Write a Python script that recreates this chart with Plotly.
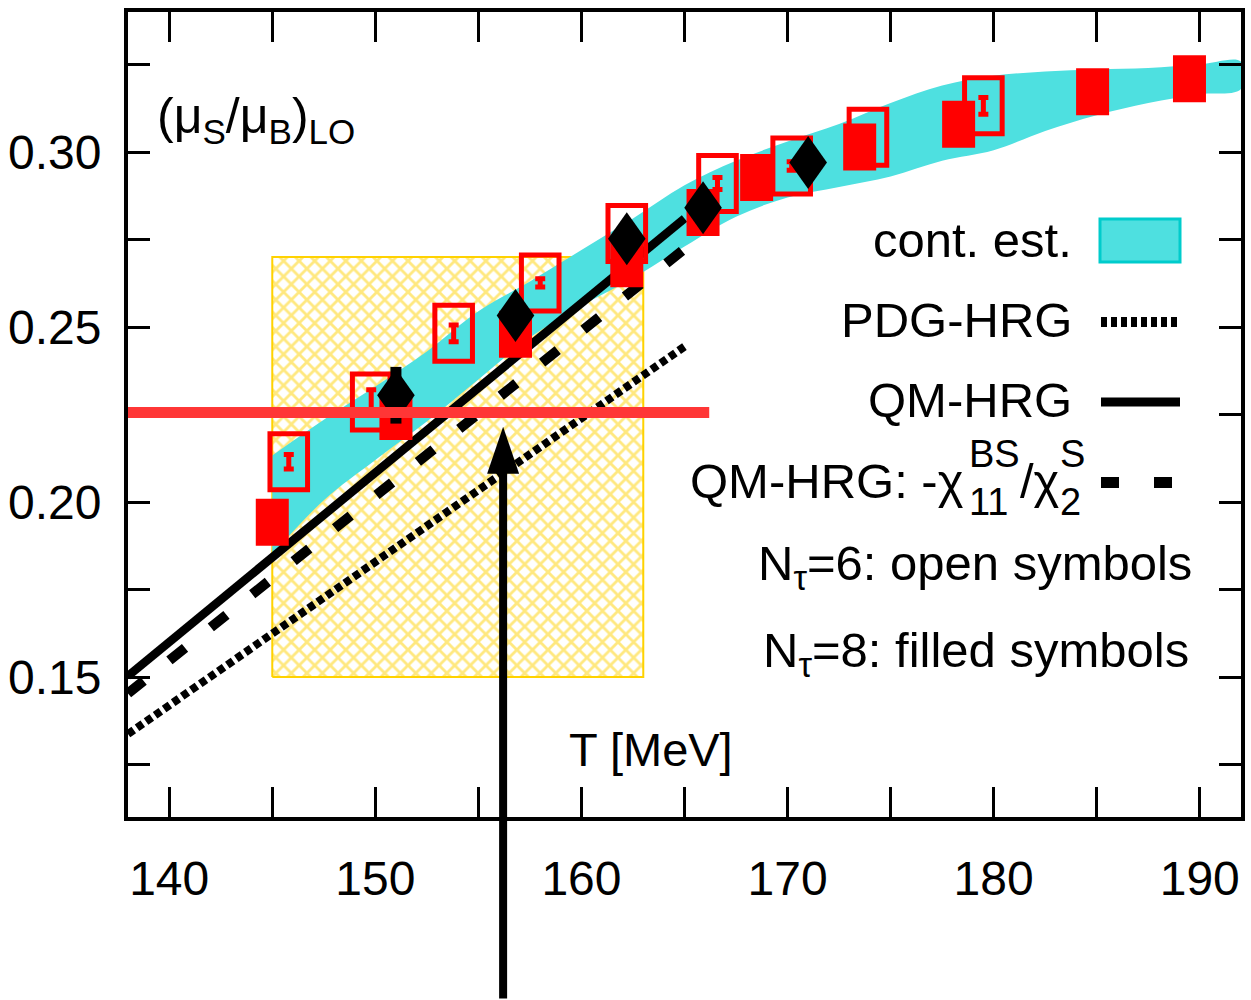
import plotly.graph_objects as go

# ---------------- data ----------------
T_RANGE = [138, 192]
Y_RANGE = [0.11, 0.34]

# continuum estimate band (upper / lower edge)
band_T = [145, 147.5, 150, 152.5, 155, 157.5, 160, 162.5, 165, 167.5,
          170, 172.5, 175, 177.5, 180, 182.5, 185, 187.5, 190, 192]
band_hi = [0.2133, 0.2235, 0.2330, 0.2430, 0.2545, 0.2630, 0.2720, 0.2810, 0.2905, 0.2975,
           0.3030, 0.3080, 0.3140, 0.3190, 0.3218, 0.3230, 0.3236, 0.3240, 0.3250, 0.3258]
band_lo = [0.1850, 0.2005, 0.2120, 0.2230, 0.2350, 0.2470, 0.2560, 0.2640, 0.2730, 0.2815,
           0.2870, 0.2900, 0.2930, 0.2975, 0.3005, 0.3060, 0.3105, 0.3140, 0.3165, 0.3180]

# hadron resonance gas curves
hrg_T = [138, 145, 150, 155, 160, 165]
pdg_hrg = [0.1337, 0.1624, 0.1829, 0.2034, 0.2239, 0.2444]
qm_hrg = [0.1503, 0.1842, 0.2084, 0.2326, 0.2568, 0.2810]
qm_hrg_chi = [0.1453, 0.1782, 0.2017, 0.2253, 0.2488, 0.2723]

# N_tau = 8, filled squares
nt8_T = [145.0, 151.0, 156.8, 162.2, 165.9, 168.5, 173.5, 178.3, 184.8, 189.5]
nt8_val = [0.1942, 0.2244, 0.2479, 0.2681, 0.2827, 0.2927, 0.3014, 0.3079, 0.3172, 0.3209]

# N_tau = 6, open squares
nt6_T = [145.8, 149.8, 153.8, 158.0, 162.2, 166.6, 170.2, 173.9, 179.5]
nt6_val = [0.2115, 0.2286, 0.2482, 0.2626, 0.2767, 0.2910, 0.2960, 0.3042, 0.3132]
nt6_err = [0.0021, 0.0035, 0.0024, 0.0012, 0.0015, 0.0017, 0.0012, 0.0015, 0.0024]

# N_tau = 8, filled diamonds
dia_T = [151.0, 156.8, 162.2, 165.9, 171.0]
dia_val = [0.2305, 0.2533, 0.2752, 0.2841, 0.2970]
dia_err = [0.0081, 0.0040, 0.0040, 0.0030, 0.0030]

# freeze-out box, reference line and arrow
BOX_T = [145, 163]
BOX_Y = [0.15, 0.27]
REF_VALUE = 0.2256
REF_T = [138, 166.2]
ARROW_T = 156.2
ARROW_TIP = 0.2215

# ---------------- styling ----------------
FONT = "Liberation Sans, Arial, sans-serif"
FS = 49        # key text
SFS = 38       # stacked indices in the key
TICK_FS = 48
RED = "#ff0000"
CYAN = "#4ee0e0"
GOLD = "#ffd200"

# plot-area pixel frame (used for placing the hand-made key)
L, R, TOP, BOT = 128, 1241, 12, 817


def px_x(px):
    return (px - L) / (R - L)


def px_y(py):
    return (BOT - py) / (BOT - TOP)


fig = go.Figure()

# hatched box
fig.add_trace(go.Scatter(
    x=[BOX_T[0], BOX_T[1], BOX_T[1], BOX_T[0], BOX_T[0]],
    y=[BOX_Y[0], BOX_Y[0], BOX_Y[1], BOX_Y[1], BOX_Y[0]],
    mode="lines", fill="toself",
    fillcolor="white",
    fillpattern=dict(shape="x", fgcolor=GOLD, bgcolor="white", size=11, solidity=0.45),
    line=dict(color=GOLD, width=2),
    hoverinfo="skip", showlegend=False))

# continuum estimate band
fig.add_trace(go.Scatter(
    x=band_T + band_T[::-1], y=band_hi + band_lo[::-1],
    mode="lines", fill="toself", fillcolor=CYAN,
    line=dict(width=0, color=CYAN, shape="spline"),
    name="cont. est.", showlegend=False))

# HRG curves
fig.add_trace(go.Scatter(x=hrg_T, y=pdg_hrg, mode="lines", name="PDG-HRG",
                         line=dict(color="black", width=8, dash="7px,4px"), showlegend=False))
fig.add_trace(go.Scatter(x=hrg_T, y=qm_hrg_chi, mode="lines", name="QM-HRG chi",
                         line=dict(color="black", width=10, dash="20px,33px"), showlegend=False))
fig.add_trace(go.Scatter(x=hrg_T, y=qm_hrg, mode="lines", name="QM-HRG",
                         line=dict(color="black", width=8.5), showlegend=False))

# error bars of the N_tau=6 points
fig.add_trace(go.Scatter(
    x=nt6_T, y=nt6_val, mode="markers",
    marker=dict(size=1, color="rgba(0,0,0,0)"),
    error_y=dict(type="data", array=nt6_err, color=RED, thickness=5, width=5),
    showlegend=False))

shapes = []
# filled squares
for t, v in zip(nt8_T, nt8_val):
    shapes.append(dict(type="rect", xref="x", yref="y", xsizemode="pixel", ysizemode="pixel",
                       xanchor=t, yanchor=v, x0=-16.5, x1=16.5, y0=-23.5, y1=23.5,
                       fillcolor=RED, line=dict(width=0)))
# open squares
for t, v in zip(nt6_T, nt6_val):
    shapes.append(dict(type="rect", xref="x", yref="y", xsizemode="pixel", ysizemode="pixel",
                       xanchor=t, yanchor=v, x0=-18.8, x1=18.8, y0=-28, y1=28,
                       fillcolor="rgba(0,0,0,0)", line=dict(color=RED, width=5)))
# diamond error bars
for t, v, e in zip(dia_T, dia_val, dia_err):
    shapes.append(dict(type="rect", xref="x", yref="y", xsizemode="pixel",
                       xanchor=t, x0=-5.5, x1=5.5, y0=v - e, y1=v + e,
                       fillcolor="black", line=dict(width=0)))
# diamonds
for t, v in zip(dia_T, dia_val):
    shapes.append(dict(type="path", xref="x", yref="y", xsizemode="pixel", ysizemode="pixel",
                       xanchor=t, yanchor=v, path="M0,26.5 L18.8,0 L0,-26.5 L-18.8,0 Z",
                       fillcolor="black", line=dict(width=0)))
# horizontal reference line
shapes.append(dict(type="line", xref="x", yref="y", x0=REF_T[0], x1=REF_T[1],
                   y0=REF_VALUE, y1=REF_VALUE, line=dict(color="#ff3636", width=11)))
# arrow head
shapes.append(dict(type="path", xref="x", yref="y", xsizemode="pixel", ysizemode="pixel",
                   xanchor=ARROW_T, yanchor=ARROW_TIP, path="M0,0 L16,-47 L-16,-47 Z",
                   fillcolor="black", line=dict(width=0)))

# hand-made key: samples
shapes.append(dict(type="rect", xref="paper", yref="paper",
                   x0=px_x(1100), x1=px_x(1180), y0=px_y(262), y1=px_y(219),
                   fillcolor=CYAN, line=dict(color="#00cccc", width=3)))
shapes.append(dict(type="line", xref="paper", yref="paper",
                   x0=px_x(1101), x1=px_x(1181), y0=px_y(322), y1=px_y(322),
                   line=dict(color="black", width=10, dash="6px,4px")))
shapes.append(dict(type="line", xref="paper", yref="paper",
                   x0=px_x(1101), x1=px_x(1180), y0=px_y(402), y1=px_y(402),
                   line=dict(color="black", width=9)))
shapes.append(dict(type="line", xref="paper", yref="paper",
                   x0=px_x(1101), x1=px_x(1172), y0=px_y(482.5), y1=px_y(482.5),
                   line=dict(color="black", width=11, dash="18px,35px")))

annotations = []


def label(text, px, py, anchor="right", size=FS):
    annotations.append(dict(text=text, xref="paper", yref="paper", x=px_x(px), y=px_y(py),
                            xanchor=anchor, yanchor="middle", showarrow=False,
                            font=dict(family=FONT, size=size, color="black")))


label("cont. est.", 1074, 240)
label("PDG-HRG", 1074, 320)
label("QM-HRG", 1074, 400)
label("QM-HRG: -χ", 966, 481)
label("11", 967, 502, anchor="left", size=SFS)
label("BS", 967, 454, anchor="left", size=SFS)
label("/χ", 1018, 481, anchor="left")
label("2", 1058, 502, anchor="left", size=SFS)
label("S", 1058, 454, anchor="left", size=SFS)
label("N<sub>τ</sub>=6: open symbols", 1194, 566)
label("N<sub>τ</sub>=8: filled symbols", 1191, 653)
label("T [MeV]", 567, 749, anchor="left", size=47)
label("(μ<sub>S</sub>/μ<sub>B</sub>)<sub>LO</sub>", 155, 120, anchor="left", size=50)

# arrow shaft running below the frame
annotations.append(dict(x=ARROW_T, y=ARROW_TIP, xref="x", yref="y", text="",
                        showarrow=True, arrowhead=0, arrowwidth=8, arrowcolor="black",
                        ax=0, ay=620, axref="pixel", ayref="pixel", standoff=40))

axis_common = dict(showline=True, linewidth=4, linecolor="black", mirror="ticks",
                   ticks="inside", tickwidth=3, tickcolor="black", showgrid=False,
                   zeroline=False, automargin=False,
                   tickfont=dict(family=FONT, size=TICK_FS, color="black"))

fig.update_layout(
    width=1251, height=1000,
    margin=dict(l=L, r=1251 - R, t=TOP, b=1000 - BOT, autoexpand=False),
    paper_bgcolor="white", plot_bgcolor="white",
    showlegend=False,
    xaxis=dict(range=T_RANGE, tickmode="linear", tick0=140, dtick=10, ticklen=30,
               ticklabelstandoff=16,
               minor=dict(dtick=5, ticks="inside", ticklen=30, tickwidth=3,
                          tickcolor="black", showgrid=False),
               **axis_common),
    yaxis=dict(range=Y_RANGE, tickmode="linear", tick0=0.15, dtick=0.05, ticklen=22,
               tickformat=".2f", ticklabelstandoff=13,
               minor=dict(dtick=0.025, ticks="inside", ticklen=22, tickwidth=3,
                          tickcolor="black", showgrid=False),
               **axis_common),
    shapes=shapes,
    annotations=annotations,
)

fig.write_html("out.html")
